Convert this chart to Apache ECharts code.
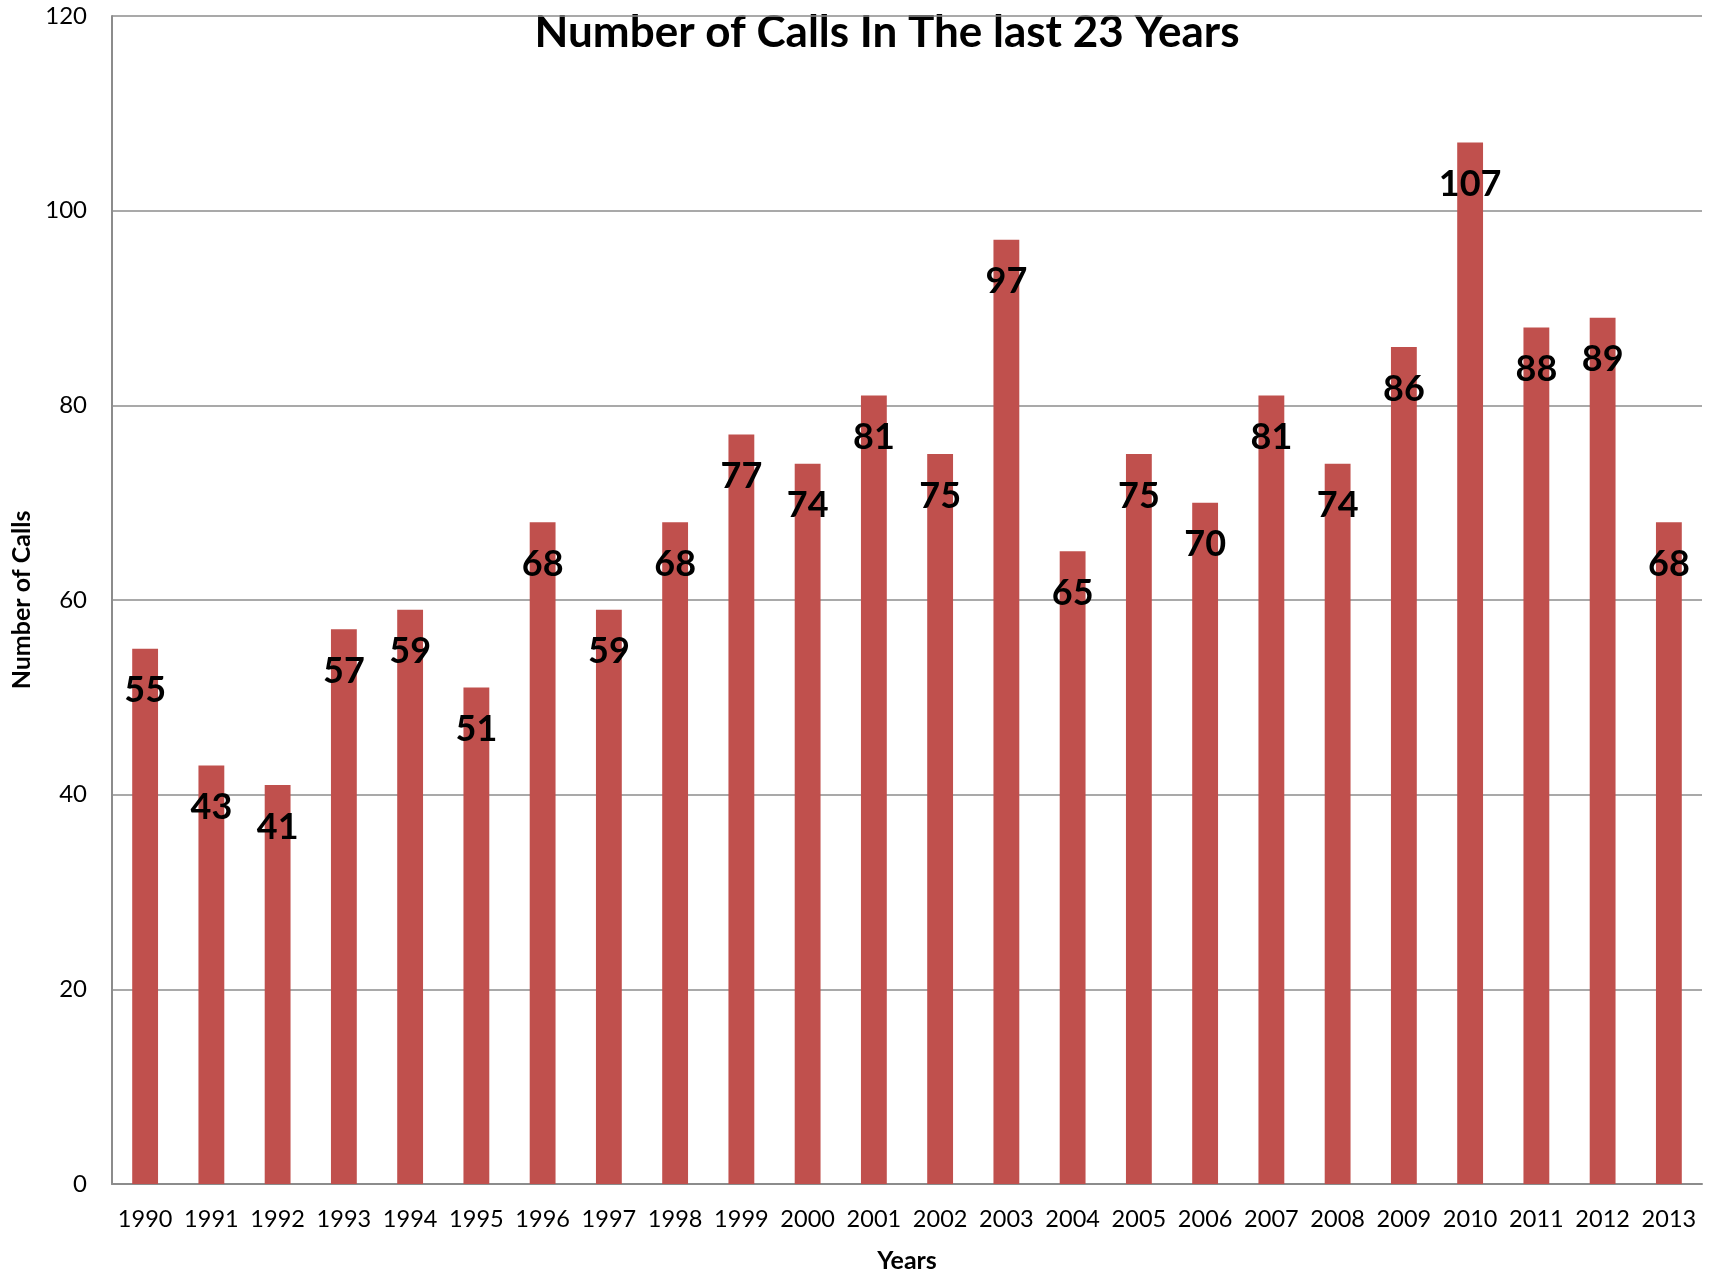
<!DOCTYPE html>
<html>
<head>
<meta charset="utf-8">
<script src="https://cdn.jsdelivr.net/npm/echarts@6/dist/echarts.min.js"></script>
<style>
html,body{margin:0;padding:0;background:#fff;}
#chart{width:1713px;height:1275px;}
</style>
</head>
<body>
<div id="chart"></div>
<script>
const years = ['1990','1991','1992','1993','1994','1995','1996','1997','1998','1999','2000','2001','2002','2003','2004','2005','2006','2007','2008','2009','2010','2011','2012','2013'];
const calls = [55,43,41,57,59,51,68,59,68,77,74,81,75,97,65,75,70,81,74,86,107,88,89,68];
const titleText = 'Number of Calls In The last 23 Years';
const yAxisName = 'Number of Calls';
const xAxisName = 'Years';

const FONT = 'Lato, "Open Sans", sans-serif';
const chart = echarts.init(document.getElementById('chart'), null, {renderer: 'canvas'});
chart.setOption({
  backgroundColor: '#ffffff',
  animation: false,
  graphic: [{
    type: 'text',
    x: 887, y: 33,
    style: {
      text: titleText,
      font: 'bold 44px ' + FONT,
      fill: '#000',
      textAlign: 'center',
      textVerticalAlign: 'middle'
    }
  }],
  grid: {left: 112, right: 11, top: 16, bottom: 91, containLabel: false, outerBoundsMode: 'none'},
  xAxis: {
    type: 'category',
    data: years,
    name: xAxisName,
    nameLocation: 'middle',
    nameGap: 64,
    nameTextStyle: {fontFamily: FONT, fontWeight: 'bold', fontSize: 25, color: '#000'},
    axisLine: {show: true, lineStyle: {color: '#8c8c8c', width: 2}},
    axisTick: {show: false},
    axisLabel: {fontFamily: FONT, fontSize: 23.5, color: '#000', margin: 23, interval: 0}
  },
  yAxis: {
    type: 'value',
    min: 0, max: 120, interval: 20,
    name: yAxisName,
    nameLocation: 'middle',
    nameGap: 76,
    nameTextStyle: {fontFamily: FONT, fontWeight: 'bold', fontSize: 25, color: '#000'},
    axisLine: {show: true, lineStyle: {color: '#8c8c8c', width: 2}},
    axisTick: {show: false},
    axisLabel: {fontFamily: FONT, fontSize: 24, color: '#000', margin: 25},
    splitLine: {show: true, lineStyle: {color: '#8c8c8c', width: 1.5}}
  },
  series: [{
    type: 'bar',
    data: calls,
    barWidth: '39%',
    itemStyle: {color: '#C0504D'},
    label: {
      show: true,
      position: 'insideTop',
      distance: 24,
      fontFamily: FONT,
      fontWeight: 'bold',
      fontSize: 36,
      lineHeight: 36,
      color: '#000'
    }
  }]
});
</script>
</body>
</html>
